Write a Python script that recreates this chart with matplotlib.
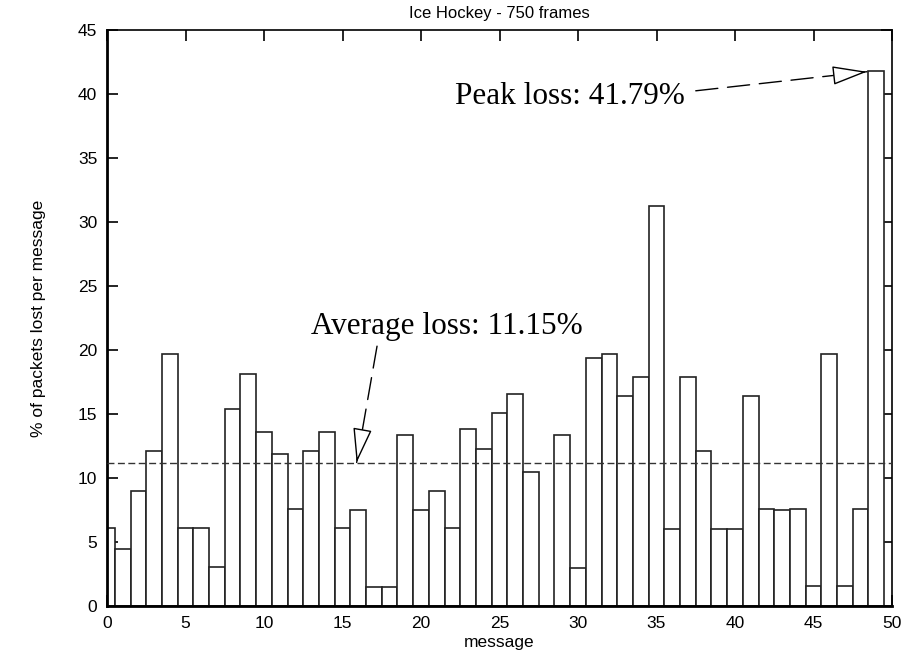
import matplotlib
matplotlib.use("Agg")
import matplotlib.pyplot as plt
import numpy as np

messages = list(range(50))
loss_pct = [6.06, 4.48, 8.98, 12.08, 19.70, 6.06, 6.06, 3.07, 15.39, 18.10,
            13.60, 11.88, 7.58, 12.08, 13.60, 6.06, 7.47, 1.48, 1.48, 13.38,
            7.47, 8.98, 6.06, 13.80, 12.29, 15.10, 16.60, 10.50, 0.0, 13.38,
            2.99, 19.38, 19.69, 16.38, 17.89, 31.25, 5.99, 17.89, 12.08, 5.99,
            5.99, 16.38, 7.58, 7.47, 7.58, 1.59, 19.69, 1.59, 7.58, 41.79]
average_loss = 11.15
peak_loss = 41.79
peak_msg = 49

x_ticks = [0, 5, 10, 15, 20, 25, 30, 35, 40, 45, 50]
y_ticks = [0, 5, 10, 15, 20, 25, 30, 35, 40, 45]

sans = ['Liberation Sans', 'DejaVu Sans']
serif = ['Liberation Serif', 'DejaVu Serif']

fig = plt.figure(figsize=(9.06, 6.56), dpi=100)
ax = fig.add_axes([107/906, 50/656, 785/906, 576/656])

ax.bar(messages, loss_pct, width=1.0, align='center', facecolor='white',
       edgecolor='#222222', linewidth=1.2, zorder=2)
ax.axhline(average_loss, color='#333333', linewidth=1.0, dashes=(5, 2.5), zorder=3)

ax.set_xlim(0, 50)
ax.set_ylim(0, 45)
ax.set_xticks(x_ticks)
ax.set_yticks(y_ticks)
ax.tick_params(direction='in', length=8, width=1.2, top=True, right=True,
               labelsize=12.5, pad=7)
for lab in ax.get_xticklabels() + ax.get_yticklabels():
    lab.set_family(sans)
for s in ax.spines.values():
    s.set_linewidth(1.2)
ax.spines['left'].set_linewidth(2.0)
ax.spines['bottom'].set_linewidth(2.0)

ax.set_title('Ice Hockey - 750 frames', fontsize=12, family=sans, pad=8.5)
ax.set_xlabel('message', fontsize=12.5, family=sans, labelpad=3)
ax.set_ylabel('% of packets lost per message', fontsize=12.5, family=sans, labelpad=23)

def dashed_arrow(text, text_xy, tip_xy, start_xy, ha):
    ax.text(text_xy[0], text_xy[1], text, fontsize=22.5, family=serif,
            ha=ha, va='center', zorder=5)
    ax.annotate('', xy=tip_xy, xytext=start_xy,
                arrowprops=dict(arrowstyle='-', color='black', lw=1.0,
                                linestyle=(0, (16, 7)), shrinkA=0, shrinkB=0),
                zorder=4)
    # solid open arrowhead near the tip
    sx, sy = ax.transData.transform(start_xy)
    tx, ty = ax.transData.transform(tip_xy)
    d = np.hypot(tx - sx, ty - sy)
    L = 30.0
    bx = tx - (tx - sx) * L / d
    by = ty - (ty - sy) * L / d
    base = ax.transData.inverted().transform((bx, by))
    ax.annotate('', xy=tip_xy, xytext=tuple(base),
                arrowprops=dict(arrowstyle='-|>,head_length=2.2,head_width=0.6',
                                facecolor='white', edgecolor='black', lw=1.0,
                                shrinkA=0, shrinkB=0),
                zorder=6)

dashed_arrow('Peak loss: %.2f%%' % peak_loss, (36.8, 39.8),
             (48.4, peak_loss - 0.05), (37.5, 40.25), ha='right')
dashed_arrow('Average loss: %.2f%%' % average_loss, (13.0, 21.8),
             (15.9, average_loss + 0.05), (17.2, 20.3), ha='left')

fig.savefig('out.png', dpi=100)
